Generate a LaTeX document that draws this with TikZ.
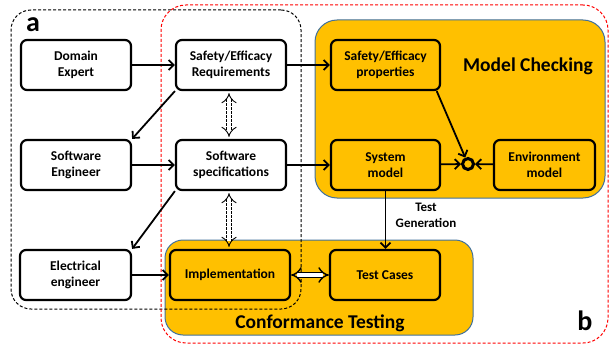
\documentclass[tikz,border=0pt]{standalone}
\usepackage{fontspec}
\setmainfont{Carlito}
\usetikzlibrary{arrows.meta}
\definecolor{orng}{HTML}{FFC000}
\definecolor{bluegrey}{HTML}{41719C}
\begin{document}
\begin{tikzpicture}[x=1pt,y=-1pt,
  box/.style={draw, line width=2.2pt, rounded corners=6pt, minimum width=110pt, minimum height=50pt,
    align=center, inner sep=1pt, font=\bfseries\fontsize{13.5}{16}\selectfont, fill=white},
  obox/.style={box, fill=orng},
  container/.style={draw=bluegrey, line width=1pt, fill=orng, inner sep=0pt},
  dbox/.style={draw, dashed, line width=1pt, dash pattern=on 3pt off 2pt, inner sep=0pt},
  arr/.style={line width=1.8pt, -{Straight Barb[length=5pt,width=10pt,line width=1.8pt]}},
  dblarr/.style={double, double distance=4pt, line width=1.4pt, {Implies}-{Implies}},
  dashdbl/.style={double, double distance=4.5pt, line width=0.9pt, dashed, dash pattern=on 2.5pt off 1.5pt, {Implies}-{Implies}},
  lbl/.style={font=\bfseries\fontsize{19.5}{22}\selectfont, inner sep=0pt}
]
\useasboundingbox (0,0) rectangle (610,345);
% containers
\node[container, rounded corners=22pt, minimum width=290pt, minimum height=178pt] (mc) at (460,109) {};
\node[container, rounded corners=18pt, minimum width=308pt, minimum height=95pt] (ct) at (319,287.5) {};
\node[dbox, rounded corners=20pt, minimum width=290pt, minimum height=299pt] (abox) at (156,159.5) {};
\node[dbox, draw=red, rounded corners=25pt, minimum width=447pt, minimum height=338pt] (bbox) at (384.5,174) {};
% labels
\node[lbl] (mclbl) at (528,66) {Model Checking};
\node[lbl] (ctlbl) at (320,323) {Conformance Testing};
\node[font=\bfseries\fontsize{28}{30}\selectfont, inner sep=0pt] (alab) at (33,25) {a};
\node[font=\bfseries\fontsize{28}{30}\selectfont, inner sep=0pt] (blab) at (585,321) {b};
% white nodes
\node[box] (de) at (76,65) {Domain\\Expert};
\node[box] (sr) at (231,65) {Safety/Efficacy\\Requirements};
\node[box] (se) at (76,165) {Software\\Engineer};
\node[box] (ss) at (231,165) {Software\\specifications};
\node[box, minimum width=111pt] (ee) at (75.5,275) {Electrical\\engineer};
% orange nodes
\node[obox, minimum width=120pt] (impl) at (230,275) {Implementation};
\node[obox] (tc) at (385,275) {Test Cases};
\node[obox, minimum width=109pt] (sp) at (385.5,65) {Safety/Efficacy\\properties};
\node[obox, minimum width=109pt] (sm) at (385.5,165) {System\\model};
\node[obox, minimum width=101pt] (env) at (544.5,165) {Environment\\model};
\node[circle, draw, line width=3pt, minimum size=11pt, inner sep=0pt] (circ) at (468,164) {};
% connectors
\draw[arr] (de) -- (sr);
\draw[arr] (sr) -- (sp);
\draw[arr] (se) -- (ss);
\draw[arr] (ss) -- (sm);
\draw[arr] (ee) -- (impl);
\draw[arr] (sr.south west) -- (se.north east);
\draw[arr] (ss.south west) -- (ee.north east);
\draw[arr] (sm) -- (circ);
\draw[arr] (env) -- (circ);
\draw[arr] (sp.-27) -- (circ);
\draw[arr] (sm.south) -- node[right=6pt, pos=0.42, font=\bfseries\fontsize{13}{15.5}\selectfont, align=center] (tg) {Test\\Generation} (sm.south |- tc.north);
\draw[dblarr] (impl) -- (tc);
\draw[dashdbl, shorten <=2pt, shorten >=2pt] (sr.south -| 229,0) -- (ss.north -| 229,0);
\draw[dashdbl, shorten <=2pt, shorten >=2pt] (ss.south -| 229,0) -- (impl.north -| 229,0);
\end{tikzpicture}
\end{document}
